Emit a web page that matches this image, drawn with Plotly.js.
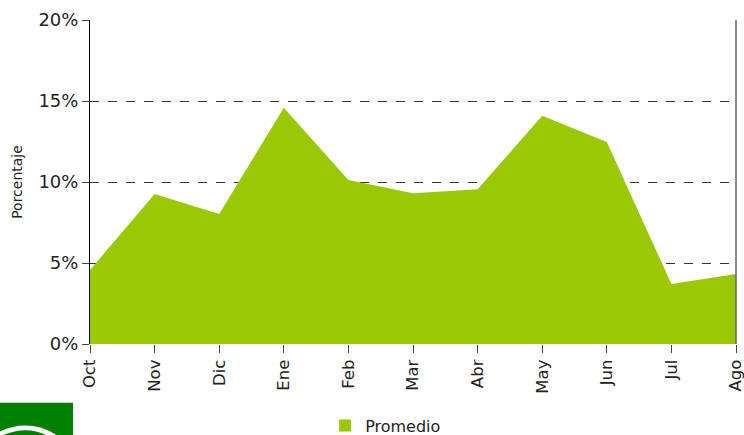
<!DOCTYPE html>
<html>
<head>
<meta charset="utf-8">
<script src="https://cdn.plot.ly/plotly-3.0.1.min.js"></script>
<style>
html,body{margin:0;padding:0;background:#fff;}
#chart{width:744px;height:435px;}
</style>
</head>
<body>
<div id="chart"></div>
<script>
const months = ["Oct","Nov","Dic","Ene","Feb","Mar","Abr","May","Jun","Jul","Ago"];
const promedio = [4.57, 9.26, 8.02, 14.59, 10.12, 9.3, 9.55, 14.09, 12.47, 3.7, 4.32];
const yTicks = [0, 5, 10, 15, 20];
const yTickLabels = ["0%", "5%", "10%", "15%", "20%"];

const font = "'DejaVu Sans', 'Liberation Sans', Arial, sans-serif";
const green = "#9BC805";

const trace = {
  x: months,
  y: promedio,
  type: "scatter",
  mode: "lines",
  name: "Promedio",
  fill: "tozeroy",
  fillcolor: green,
  line: {color: green, width: 0},
  showlegend: false,
  hoverinfo: "x+y"
};

// legend entry with a square swatch (no data drawn)
const legendEntry = {
  x: [null], y: [null],
  type: "scatter",
  mode: "markers",
  name: "Promedio",
  marker: {symbol: "square", size: 12, color: green},
  showlegend: true
};

const layout = {
  width: 744,
  height: 435,
  margin: {l: 90, r: 8, t: 20, b: 91, autoexpand: false},
  paper_bgcolor: "#ffffff",
  plot_bgcolor: "#ffffff",
  font: {family: font, color: "#222"},
  showlegend: true,
  legend: {
    orientation: "h",
    x: 0.364, xanchor: "left",
    y: -0.252, yanchor: "middle",
    font: {size: 16, family: font, color: "#222"},
    bgcolor: "rgba(0,0,0,0)",
    itemwidth: 30
  },
  xaxis: {
    type: "category",
    range: [0, months.length - 1],
    automargin: false,
    showgrid: false,
    zeroline: false,
    showline: false,
    ticks: "outside",
    ticklen: 8,
    tickcolor: "#444",
    tickangle: -90,
    tickfont: {size: 16.5, family: font, color: "#222"}
  },
  yaxis: {
    range: [0, 20],
    automargin: false,
    tickvals: yTicks,
    ticktext: yTickLabels,
    showgrid: true,
    gridcolor: "#333",
    griddash: "dash",
    gridwidth: 1,
    zeroline: false,
    showline: true,
    linecolor: "#000",
    linewidth: 1,
    ticks: "outside",
    ticklen: 7,
    tickcolor: "#444",
    tickfont: {size: 18, family: font, color: "#222"},
    title: {text: "Porcentaje", font: {size: 14, family: font, color: "#222"}, standoff: 12}
  },
  shapes: [
    {type: "line", xref: "paper", yref: "paper", x0: 1, x1: 1, y0: 0, y1: 1,
     line: {color: "#666", width: 1.5}},
    {type: "rect", xref: "paper", yref: "paper",
     x0: -0.1393, x1: -0.0263, y0: -0.181, y1: -0.29,
     fillcolor: "#008000", line: {width: 0}, layer: "above"},
    {type: "path", xref: "paper", yref: "paper",
     path: "M -0.1393 -0.27 Q -0.09 -0.225 -0.045 -0.29 L -0.06 -0.29 Q -0.095 -0.245 -0.1393 -0.285 Z",
     fillcolor: "#ffffff", line: {width: 0}, layer: "above"}
  ]
};

Plotly.newPlot("chart", [trace, legendEntry], layout, {displayModeBar: false, staticPlot: true});
</script>
</body>
</html>
